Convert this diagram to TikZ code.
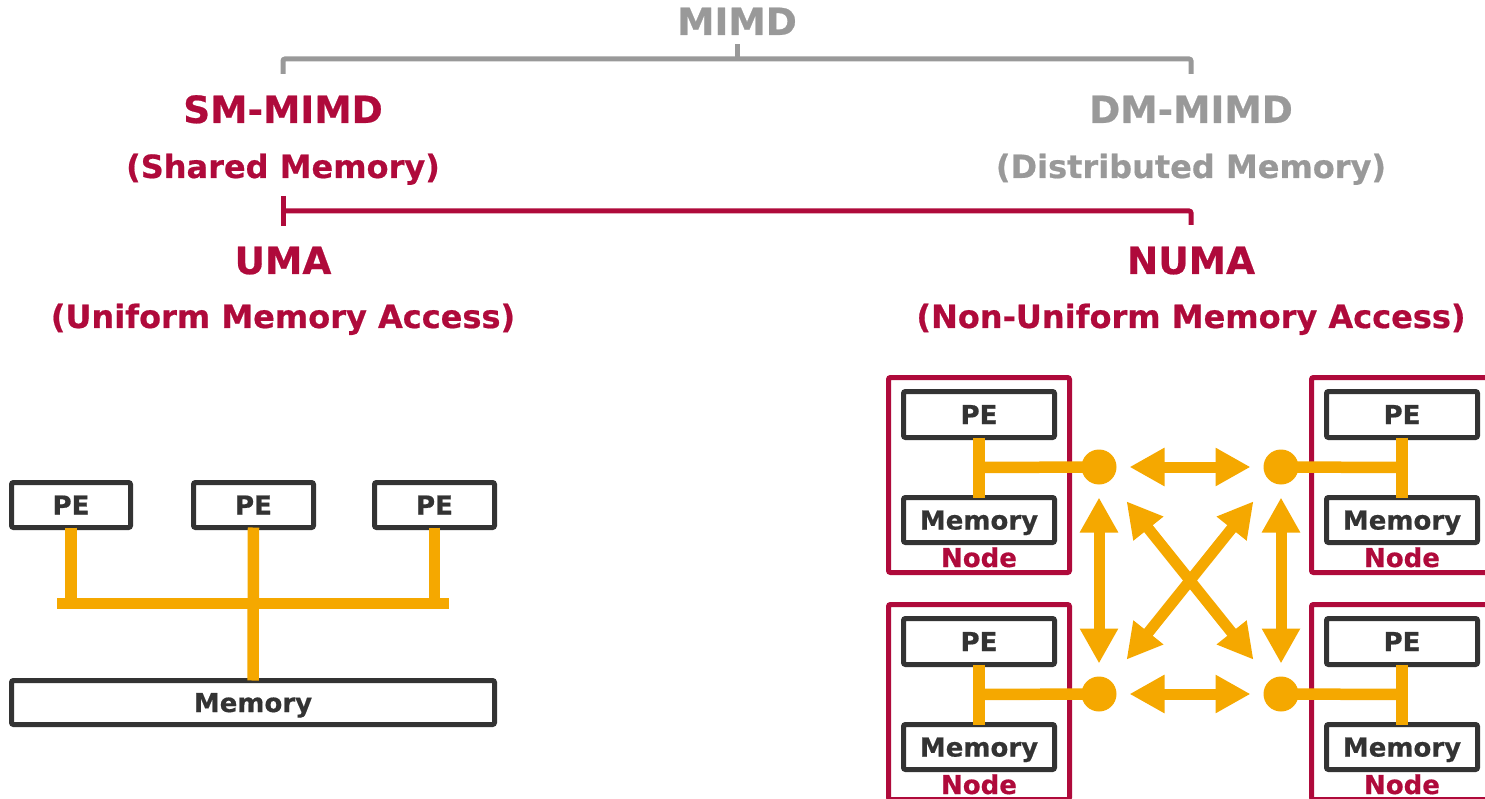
\documentclass[tikz,border=0pt]{standalone}
\usepackage{fontspec}
\setmainfont{DejaVu Sans}[BoldFeatures={FakeBold=0.6}]
\usetikzlibrary{arrows.meta,calc}
\definecolor{crimson}{HTML}{AF0A3B}
\definecolor{midgray}{HTML}{999999}
\definecolor{ink}{HTML}{333333}
\definecolor{amber}{HTML}{F5A800}
\tikzset{
  head/.style={font=\bfseries\fontsize{37.5}{40}\selectfont, anchor=base, inner sep=0},
  sub/.style={font=\bfseries\fontsize{32}{36}\selectfont, anchor=base, inner sep=0},
  unitbox/.style={draw=ink, line width=5pt, fill=white, rounded corners=2pt,
    inner sep=0, outer sep=0, text=ink, font=\bfseries\fontsize{26}{28}\selectfont,
    text height=19pt, text depth=0pt},
  pebox/.style={unitbox, minimum width=151pt, minimum height=46pt},
  membox/.style={unitbox, minimum width=151pt, minimum height=45pt},
  nodeframe/.style={draw=crimson, line width=5pt, rounded corners=2pt,
    minimum width=181pt, minimum height=195pt, inner sep=0, outer sep=0},
  nodelabel/.style={text=crimson, font=\bfseries\fontsize{26}{28}\selectfont, anchor=base, inner sep=0},
  wire/.style={draw=amber, line width=11.5pt},
  dot/.style={circle, fill=amber, minimum size=35pt, inner sep=0, outer sep=0},
  biarrow/.style={draw=amber, line width=11pt,
    {Triangle[length=35pt,width=36pt]}-{Triangle[length=35pt,width=36pt]}},
  grayline/.style={draw=midgray, line width=5pt, rounded corners=2pt},
  redline/.style={draw=crimson, line width=5pt, rounded corners=2pt},
}
\begin{document}
\begin{tikzpicture}[x=1pt,y=-1pt]
\useasboundingbox (0,0) rectangle (1485,799);
\clip (0,0) rectangle (1485,799);

% ---- classification tree ----
\node[head, text=midgray] (mimd) at (737,35) {MIMD};
\node[head, text=crimson] (smmimd) at (283,123) {SM-MIMD};
\node[sub, text=crimson] (smsub) at (283,178) {(Shared Memory)};
\node[head, text=midgray] (dmmimd) at (1191,123) {DM-MIMD};
\node[sub, text=midgray] (dmsub) at (1191,178) {(Distributed Memory)};
\node[head, text=crimson] (uma) at (283,274) {UMA};
\node[sub, text=crimson] (umasub) at (283,328) {(Uniform Memory Access)};
\node[head, text=crimson] (numa) at (1191,274) {NUMA};
\node[sub, text=crimson] (numasub) at (1191,328) {(Non-Uniform Memory Access)};

\coordinate (gL) at (283,74);
\coordinate (gR) at (1191,74);
\coordinate (gM) at (737,59);
\draw[grayline] (gL) -- (gL |- gM) -- (gR |- gM) -- (gR);
\draw[grayline] (gM) -- ++(0,-15);

\coordinate (rL) at (283,211);
\coordinate (rR) at (1191,225);
\draw[redline] (rL) ++(0,-15) -- ++(0,30);
\draw[redline] (rL) -- (rR |- rL) -- (rR);

% ---- UMA: processors on a shared bus ----
\node[unitbox, minimum width=119pt, minimum height=45pt] (pe1) at (71,505) {PE};
\node[unitbox, minimum width=120pt, minimum height=45pt] (pe2) at (253.5,505) {PE};
\node[unitbox, minimum width=120pt, minimum height=45pt] (pe3) at (434.5,505) {PE};
\node[unitbox, minimum width=483pt, minimum height=44pt] (umamem) at (253,702.5) {Memory};
\coordinate (busL) at (57,603);
\coordinate (busR) at (449,603);
\draw[wire, line width=11pt] (busL) -- (busR);
\draw[wire] (pe1.south) -- (pe1.south |- busL);
\draw[wire] (pe3.south) -- (pe3.south |- busL);
\draw[wire] (pe2.south) -- (umamem.north);

% ---- NUMA: four nodes, each with local memory ----
\node[nodeframe] (frTL) at (979,475) {};
\node[nodeframe] (frTR) at (1402,475) {};
\node[nodeframe] (frBL) at (979,702) {};
\node[nodeframe] (frBR) at (1402,702) {};

\node[pebox] (peTL) at (979,414.5) {PE};
\node[membox] (memTL) at (979,520) {Memory};
\node[nodelabel] (lbTL) at (979,567) {Node};
\node[pebox] (peTR) at (1402,414.5) {PE};
\node[membox] (memTR) at (1402,520) {Memory};
\node[nodelabel] (lbTR) at (1402,567) {Node};
\node[pebox] (peBL) at (979,641.5) {PE};
\node[membox] (memBL) at (979,747) {Memory};
\node[nodelabel] (lbBL) at (979,794) {Node};
\node[pebox] (peBR) at (1402,641.5) {PE};
\node[membox] (memBR) at (1402,747) {Memory};
\node[nodelabel] (lbBR) at (1402,794) {Node};

\node[dot] (dTL) at (1099,467) {};
\node[dot] (dTR) at (1281,467) {};
\node[dot] (dBL) at (1099,694) {};
\node[dot] (dBR) at (1281,694) {};

\foreach \n in {TL,TR,BL,BR}{
  \draw[wire] (pe\n.south) -- (mem\n.north);
  \draw[wire] ($(pe\n.south)!0.5!(mem\n.north)$) -- (d\n.center);
}

% interconnect
\draw[biarrow, shorten <=13pt, shorten >=13pt] (dTL) -- (dTR);
\draw[biarrow, shorten <=13pt, shorten >=13pt] (dBL) -- (dBR);
\draw[biarrow, shorten <=13pt, shorten >=13pt] (dTL) -- (dBL);
\draw[biarrow, shorten <=13pt, shorten >=13pt] (dTR) -- (dBR);
\draw[biarrow, shorten <=26.5pt, shorten >=26.5pt] (dTL) -- (dBR);
\draw[biarrow, shorten <=26.5pt, shorten >=26.5pt] (dTR) -- (dBL);
\end{tikzpicture}
\end{document}
